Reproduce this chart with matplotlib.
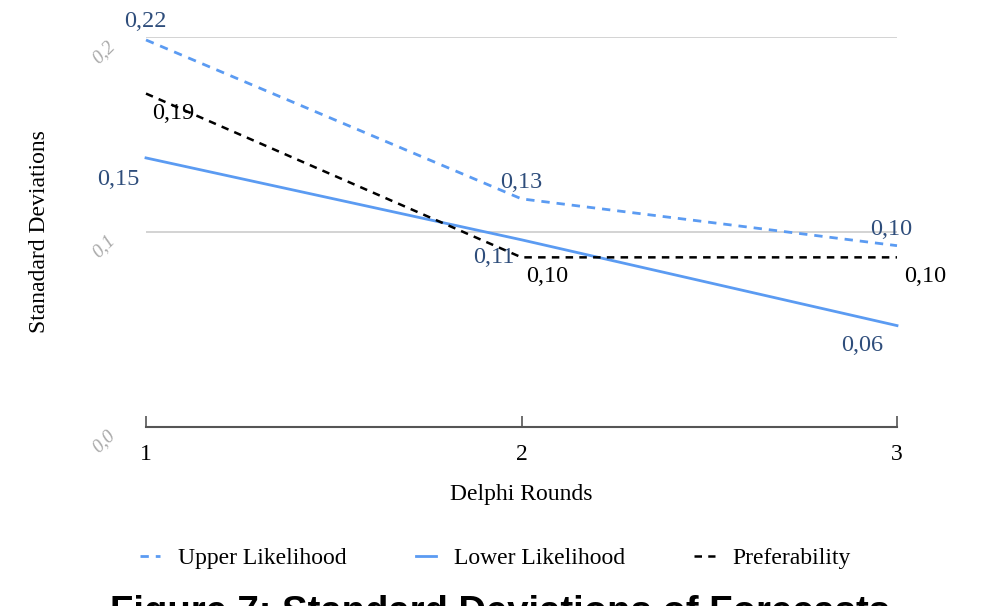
import numpy as np
import matplotlib.pyplot as plt

# Données
rounds = [1, 2, 3]
upper = [0.1985, 0.117, 0.093]
lower = [0.138, 0.096, 0.052]
pref = [0.171, 0.087, 0.087]

upper_lbl = ['0,22', '0,13', '0,10']
lower_lbl = ['0,15', '0,11', '0,06']
pref_lbl = ['0,19', '0,10', '0,10']

yticks = [0.0, 0.1, 0.2]
ytick_lbl = ['0,0', '0,1', '0,2']

blue = '#5b9bf2'
navy = '#2e4d7b'

plt.rcParams['font.family'] = ['Liberation Serif', 'DejaVu Serif']

fig = plt.figure(figsize=(10, 6.06), dpi=100)
ax = fig.add_axes([0.146, 0.2954, 0.751, 0.6435])

ax.plot(rounds, upper, color=blue, lw=2, ls=(0, (3, 2.5)), clip_on=False, label='Upper Likelihood')
ax.plot(rounds, lower, color=blue, lw=2, ls='-', clip_on=False, label='Lower Likelihood')
ax.plot(rounds, pref, color='black', lw=1.8, ls=(0, (3, 2.5)), clip_on=False, label='Preferability')

# Étiquettes des valeurs (décalages en pixels)
px = 0.72
off_u = [(-1, 18), (0, 16), (-6, 16)]
off_l = [(-28, -22), (-28, -18), (-35, -20)]
off_p = [(27, -20), (26, -19), (28, -19)]
for vals, lbls, offs, col in [(upper, upper_lbl, off_u, navy),
                              (lower, lower_lbl, off_l, navy),
                              (pref, pref_lbl, off_p, 'black')]:
    for x, y, t, (dx, dy) in zip(rounds, vals, lbls, offs):
        ax.annotate(t, (x, y), xytext=(dx * px, dy * px), textcoords='offset points',
                    ha='center', va='center', fontsize=17.5, color=col)

ax.set_xlim(1, 3)
ax.set_ylim(0, 0.2)
ax.set_xticks(rounds)
ax.set_xticklabels(['1', '2', '3'], fontsize=17)
ax.set_yticks(yticks)
ax.set_yticklabels(ytick_lbl, rotation=45, color='#aaaaaa', fontsize=14,
                   ha='right', va='top', style='italic')
ax.tick_params(axis='y', length=0, pad=20)
ax.tick_params(axis='x', direction='in', length=8, width=1.2, color='#555555', pad=12)
for yv in [0.1, 0.2]:
    ax.axhline(yv, color='#cccccc', lw=1.2, zorder=0)

for s in ['top', 'right', 'left']:
    ax.spines[s].set_visible(False)
ax.spines['bottom'].set_color('#555555')
ax.spines['bottom'].set_linewidth(1.5)

ax.set_ylabel('Stanadard Deviations', fontsize=17, labelpad=28)
ax.set_xlabel('Delphi Rounds', fontsize=17, labelpad=14)

ax.legend(loc='upper center', bbox_to_anchor=(0.465, -0.255), ncol=3, frameon=False,
          fontsize=17, handlelength=0.85, columnspacing=2.95, handletextpad=0.75)

fig.text(0.5, -0.028, 'Figure 7: Standard Deviations of Forecasts', ha='center', va='baseline',
         fontsize=27.5, fontweight='bold', family='Liberation Sans')

plt.savefig('out.png', dpi=100)
